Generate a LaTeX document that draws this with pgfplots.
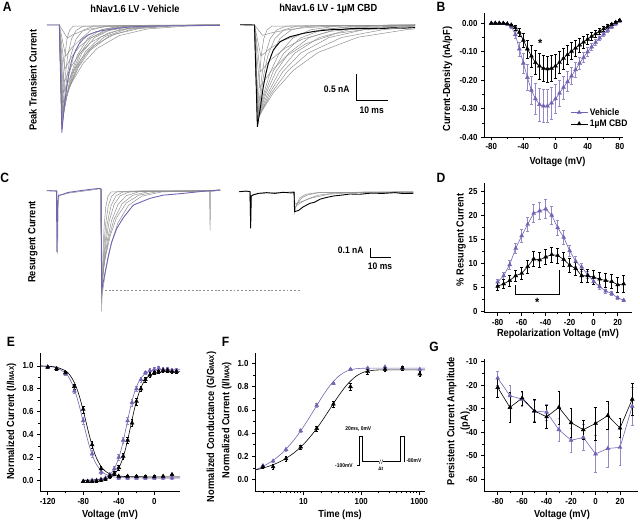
\documentclass[border=0pt]{standalone}
\usepackage{fontspec}
\setmainfont{Liberation Sans}[FakeStretch=0.9]
\usepackage{pgfplots}
\pgfplotsset{compat=1.18}
\definecolor{vp}{RGB}{118,98,178}
\definecolor{vpl}{RGB}{150,138,196}
\definecolor{tg}{RGB}{145,145,145}
\newcommand{\tk}{\fontsize{8.8}{9.5}\selectfont\bfseries}
\newcommand{\lb}{\fontsize{10.3}{12}\selectfont\bfseries}
\newcommand{\scb}{\fontsize{9.5}{10}\selectfont\bfseries}
\newcommand{\pl}{\fontsize{13.5}{14}\selectfont\bfseries}
\newcommand{\mx}{{\fontsize{7}{7}\selectfont MAX}}
\pgfplotsset{
 panel/.style={anchor=south west, scale only axis, axis x line*=bottom, axis y line*=left,
   tick align=outside, major tick length=3pt, minor tick length=1.8pt,
   tick style={black, line width=0.6pt}, axis line style={line width=0.7pt},
   tick label style={font=\tk}, /pgf/number format/assume math mode=true, clip=false},
 veh/.style={color=vp, line width=0.6pt, mark=triangle*, mark size=2.3pt,
   mark options={solid, fill=vp, draw=vp, line width=0.4pt},
   /pgfplots/error bars/y dir=both, /pgfplots/error bars/y explicit,
   /pgfplots/error bars/error bar style={vpl, line width=0.5pt},
   /pgfplots/error bars/error mark options={rotate=90, mark size=1.3pt, draw=vpl, line width=0.5pt}},
 cbd/.style={color=black, line width=0.6pt, mark=triangle*, mark size=2.3pt,
   mark options={solid, fill=black, draw=black, line width=0.4pt},
   /pgfplots/error bars/y dir=both, /pgfplots/error bars/y explicit,
   /pgfplots/error bars/error bar style={black, line width=0.5pt},
   /pgfplots/error bars/error mark options={rotate=90, mark size=1.3pt, draw=black, line width=0.5pt}},
 tr/.style={tg, line width=0.5pt, no marks},
}
\begin{document}
\begin{tikzpicture}
\path[use as bounding box] (0,0) rectangle (640bp,521bp);

% ---------------- A: transient traces ----------------
\begin{axis}[anchor=south west, at={(0bp,360.8bp)}, x=3.2bp, y=52bp, xmin=-18.53, xmax=179.9, ymin=-2.6, ymax=0.3, hide axis, clip=false]
\addplot[tr] coordinates {(-3.9,0)(0,0)(0.8,-2.0)(1.04,-1.48)(1.36,-0.99)(1.76,-0.60)(2.4,-0.27)(3.2,-0.10)(4.4,-0.022)(50,0)};
\addplot[tr] coordinates {(0,0)(0.8,-2.0)(1.25,-1.48)(1.85,-0.99)(2.6,-0.60)(3.8,-0.27)(5.3,-0.10)(7.55,-0.022)(50,0)};
\addplot[tr] coordinates {(0,0)(0.85,-2.0)(1.51,-1.48)(2.39,-0.99)(3.49,-0.60)(5.25,-0.27)(7.45,-0.10)(10.75,-0.022)(50,0)};
\addplot[tr] coordinates {(0,0)(0.9,-1.95)(1.8,-1.445)(3.0,-0.969)(4.5,-0.587)(6.9,-0.263)(9.9,-0.097)(14.4,-0.022)(50,0)};
\addplot[tr] coordinates {(0,0)(0.9,-1.9)(2.1,-1.408)(3.7,-0.944)(5.7,-0.572)(8.9,-0.257)(12.9,-0.095)(18.9,-0.021)(50,0)};
\addplot[tr] coordinates {(0,0)(0.95,-1.85)(2.3,-1.371)(4.1,-0.919)(6.35,-0.557)(9.95,-0.250)(14.45,-0.092)(21.2,-0.021)(50,0)};
\addplot[tr] coordinates {(0,0)(1.0,-1.8)(2.5,-1.334)(4.5,-0.895)(7.0,-0.542)(11,-0.243)(16,-0.090)(23.5,-0.020)(50,0)};
\addplot[tr] coordinates {(0,0)(1.0,-1.7)(2.8,-1.26)(5.2,-0.845)(8.2,-0.512)(13,-0.230)(19,-0.085)(28,-0.019)(50,0)};
\addplot[tr] coordinates {(0,0)(1.05,-1.65)(3.03,-1.223)(5.67,-0.820)(8.97,-0.497)(14.25,-0.223)(20.85,-0.082)(30.75,-0.018)(50,0)};
\addplot[tr] coordinates {(0,0)(1.1,-1.6)(3.26,-1.186)(6.14,-0.795)(9.74,-0.482)(15.5,-0.216)(22.7,-0.080)(33.5,-0.018)(50,0)};
\addplot[tr] coordinates {(0,0)(1.2,-1.5)(3.84,-1.112)(7.36,-0.746)(11.76,-0.452)(18.8,-0.203)(27.6,-0.075)(40.8,-0.017)(50,-0.005)};
\addplot[tr] coordinates {(0,0)(1.3,-1.3)(3.7,-0.963)(6.9,-0.646)(10.9,-0.391)(17.3,-0.176)(25.3,-0.065)(37.3,-0.014)(50,0)};
\addplot[tr] coordinates {(0,0)(1.5,-1.1)(3.6,-0.815)(6.4,-0.547)(9.9,-0.331)(15.5,-0.149)(22.5,-0.055)(33,-0.012)(50,0)};
\addplot[tr] coordinates {(0,0)(1.7,-0.85)(3.65,-0.63)(6.25,-0.422)(9.5,-0.256)(14.7,-0.115)(21.2,-0.042)(31,-0.009)(50,0)};
\addplot[tr] coordinates {(0,0)(2,-0.6)(3.8,-0.445)(6.2,-0.298)(9.2,-0.181)(14,-0.081)(20,-0.030)(29,-0.007)(50,0)};
\addplot[tr] coordinates {(0,0)(2.5,-0.25)(4.3,-0.185)(6.7,-0.124)(9.7,-0.075)(14.5,-0.034)(20.5,-0.012)(29.5,-0.003)(50,0)};
\addplot[vp, line width=0.8pt, no marks] coordinates {(-3.9,0)(0,0)(0.8,-2.07)(1.5,-1.6)(2.3,-1.19)(3.1,-0.88)(3.9,-0.67)(5,-0.5)(6,-0.38)(7.5,-0.27)(9.1,-0.19)(11.5,-0.13)(14.3,-0.1)(19,-0.055)(24.6,-0.03)(35,-0.015)(50.2,-0.01)};
% CBD
\addplot[tr] coordinates {(56.5,0)(61,0)(61.9,-1.95)(62.2,-1.445)(62.6,-0.969)(63.1,-0.587)(63.9,-0.263)(64.9,-0.097)(66.4,-0.022)(111.2,0)};
\addplot[tr] coordinates {(61,0)(61.9,-1.95)(62.5,-1.445)(63.3,-0.969)(64.3,-0.587)(65.9,-0.263)(67.9,-0.097)(70.9,-0.022)(111.2,0)};
\addplot[tr] coordinates {(61,0)(61.95,-1.95)(62.76,-1.445)(63.84,-0.969)(65.19,-0.587)(67.35,-0.263)(70.05,-0.097)(74.1,-0.022)(111.2,0)};
\addplot[tr] coordinates {(61,0)(62.0,-1.9)(63.05,-1.408)(64.45,-0.944)(66.2,-0.572)(69.0,-0.257)(72.5,-0.095)(77.75,-0.021)(111.2,0)};
\addplot[tr] coordinates {(61,0)(62.0,-1.85)(63.65,-1.371)(65.85,-0.919)(68.6,-0.557)(73.0,-0.250)(78.5,-0.092)(86.75,-0.021)(111.2,0)};
\addplot[tr] coordinates {(61,0)(62.05,-1.82)(64.06,-1.349)(66.74,-0.905)(70.09,-0.548)(75.45,-0.246)(82.15,-0.091)(92.2,-0.020)(111.2,0)};
\addplot[tr] coordinates {(61,0)(62.1,-1.8)(64.5,-1.334)(67.7,-0.895)(71.7,-0.542)(78.1,-0.243)(86.1,-0.090)(98.1,-0.020)(111.2,0)};
\addplot[tr] coordinates {(61,0)(62.15,-1.8)(65.0,-1.334)(68.8,-0.895)(73.55,-0.542)(81.15,-0.243)(90.65,-0.090)(104.9,-0.020)(111.2,0)};
\addplot[tr] coordinates {(61,0)(62.2,-1.8)(65.5,-1.334)(69.9,-0.895)(75.4,-0.542)(84.2,-0.243)(95.2,-0.090)(111.2,-0.022)};
\addplot[tr] coordinates {(61,0)(62.25,-1.78)(66.15,-1.319)(71.35,-0.885)(77.85,-0.536)(88.25,-0.240)(101.25,-0.089)(111.2,-0.041)};
\addplot[tr] coordinates {(61,0)(62.3,-1.75)(66.95,-1.297)(73.15,-0.870)(80.9,-0.527)(93.3,-0.236)(108.8,-0.087)(111.2,-0.074)};
\addplot[tr] coordinates {(61,0)(62.6,-1.2)(66.2,-0.889)(71.0,-0.596)(77.0,-0.361)(86.6,-0.162)(98.6,-0.060)(111.2,-0.021)};
\addplot[tr] coordinates {(61,0)(62.8,-0.9)(66.1,-0.667)(70.5,-0.447)(76,-0.271)(84.8,-0.122)(95.8,-0.045)(111.2,-0.011)};
\addplot[tr] coordinates {(61,0)(63,-0.6)(66,-0.445)(70,-0.298)(75,-0.181)(83,-0.081)(93,-0.030)(108,-0.007)(111.2,0)};
\addplot[tr] coordinates {(61,0)(63.5,-0.2)(66.5,-0.148)(70.5,-0.099)(75.5,-0.060)(83.5,-0.027)(93.5,-0.010)(108.5,-0.002)(111.2,0)};
\addplot[black, line width=0.9pt, no marks] coordinates {(56.5,0.005)(61,0)(61.9,-1.96)(62.8,-1.6)(63.75,-1.19)(64.5,-0.95)(65.3,-0.74)(66.9,-0.48)(69.0,-0.32)(72.1,-0.225)(76.25,-0.16)(80,-0.12)(85.7,-0.085)(88,-0.09)(91,-0.07)(96,-0.068)(100,-0.072)(104,-0.055)(108,-0.06)(111.2,-0.05)};
\draw[line width=0.7pt] (axis cs:92.7,-0.94) -- (axis cs:92.7,-1.44) -- (axis cs:102.7,-1.44);
\end{axis}

% ---------------- C: resurgent traces ----------------
\begin{axis}[anchor=south west, at={(0bp,191bp)}, x=2.07bp, y=90bp, xmin=-48.79, xmax=158.94, ymin=-1.548, ymax=0.174, hide axis, clip=false]
\addplot[tr] coordinates {(-26.2,0)(-21.2,0)(-20.95,-0.70)(-20.7,-0.2)(-20.3,-0.06)(-19,-0.045)(-15,-0.025)(-10,-0.01)(-5,0.005)(-1,0.02)(0,0.02)};
\addplot[tr] coordinates {(0,0.02)(0.3,-1.34)(0.6,-0.993)(1.0,-0.666)(1.5,-0.403)(2.3,-0.181)(3.3,-0.067)(4.8,-0.015)(20,0.0)(57.5,0.005)};
\addplot[tr] coordinates {(0,0.02)(0.3,-1.25)(0.78,-0.926)(1.42,-0.621)(2.22,-0.376)(3.5,-0.169)(5.1,-0.062)(7.5,-0.014)(57.5,0.0)};
\addplot[tr] coordinates {(0,0.02)(0.3,-1.2)(0.99,-0.889)(1.91,-0.596)(3.06,-0.361)(4.9,-0.162)(7.2,-0.060)(10.65,-0.013)(57.5,0.0)};
\addplot[tr] coordinates {(0,0.02)(0.3,-1.15)(1.2,-0.852)(2.4,-0.572)(3.9,-0.346)(6.3,-0.155)(9.3,-0.057)(13.8,-0.013)(57.5,0.0)};
\addplot[tr] coordinates {(0,0.02)(0.3,-1.1)(1.5,-0.815)(3.1,-0.547)(5.1,-0.331)(8.3,-0.149)(12.3,-0.055)(18.3,-0.012)(52.4,0.0)(52.7,-0.44)(53.0,0.0)(57.5,0.0)};
\addplot[tr] coordinates {(0,0.02)(0.3,-1.05)(1.8,-0.778)(3.8,-0.522)(6.3,-0.316)(10.3,-0.142)(15.3,-0.052)(22.8,-0.012)(57.5,0.0)};
\addplot[tr] coordinates {(0,0.02)(0.3,-1.0)(2.1,-0.741)(4.5,-0.497)(7.5,-0.301)(12.3,-0.135)(18.3,-0.050)(27.3,-0.011)(57.5,0.0)};
\addplot[tr] coordinates {(0,0.02)(0.3,-1.2)(2.25,-0.889)(4.85,-0.596)(8.1,-0.361)(13.3,-0.162)(19.8,-0.060)(29.55,-0.013)(57.5,0.0)};
\addplot[vp, line width=0.9pt, no marks] coordinates {(-26.2,0.0)(-21.5,-0.005)(-21.3,-0.68)(-21.0,-0.15)(-20.5,-0.05)(-19,-0.045)(-16,-0.02)(-10,0.0)(-5,0.015)(-1,0.025)(0,0.02)(0.3,-1.1)(0.8,-1.05)(1.9,-0.92)(3.5,-0.73)(5.2,-0.57)(7.6,-0.42)(10.8,-0.3)(15.6,-0.16)(23.7,-0.085)(30,-0.05)(39.8,-0.03)(48,-0.01)(55.9,0.005)(57.5,0.01)};
\draw[tg, line width=0.6pt, dash pattern=on 2pt off 1.8pt] (axis cs:0,-1.11) -- (axis cs:96.1,-1.11);
% CBD
\addplot[tr] coordinates {(66.8,-0.01)(71.9,-0.01)(72.2,-0.40)(72.5,-0.06)(73.5,-0.04)(80,-0.025)(88,-0.02)(93.2,-0.01)(93.5,-0.25)(94.5,-0.15)(96,-0.08)(99,-0.04)(105,-0.02)(120,-0.02)(150.9,-0.015)};
\addplot[tr] coordinates {(93.2,-0.01)(93.6,-0.2)(95,-0.14)(97,-0.08)(100,-0.045)(106,-0.02)(130,-0.02)(150.9,-0.02)};
\addplot[tr] coordinates {(93.2,-0.01)(93.6,-0.18)(96,-0.14)(100,-0.09)(105,-0.05)(115,-0.02)(150.9,-0.02)};
\addplot[tr] coordinates {(93.2,-0.01)(93.7,-0.15)(97,-0.12)(102,-0.08)(110,-0.04)(125,-0.015)(150.9,-0.01)};
\addplot[black, line width=0.9pt, no marks] coordinates {(66.8,-0.011)(70,-0.005)(72.0,-0.01)(72.3,-0.42)(72.6,-0.06)(73.5,-0.048)(76,-0.03)(80,-0.022)(84,-0.03)(88,-0.018)(92,-0.025)(93.3,-0.02)(93.5,-0.233)(95.4,-0.22)(97.8,-0.178)(101,-0.14)(103,-0.13)(105.8,-0.095)(109,-0.075)(112.4,-0.059)(116,-0.05)(120.3,-0.037)(125,-0.04)(130,-0.028)(136.4,-0.03)(142,-0.022)(146,-0.032)(150.9,-0.029)};
\draw[line width=0.7pt] (axis cs:130,-0.64) -- (axis cs:130,-0.74) -- (axis cs:140,-0.74);
\end{axis}

% ---------------- B ----------------
\begin{axis}[panel, at={(484bp,383.7bp)}, width=139bp, height=124.3bp,
  xmin=-89, xmax=84, ymin=-0.40, ymax=0.036,
  xtick={-80,-40,0,40,80}, minor x tick num=1,
  ytick={-0.4,-0.3,-0.2,-0.1,0}, yticklabels={-0.40,-0.30,-0.20,-0.10,0.00}, minor y tick num=1,
  legend style={at={(0.62,0.25)}, anchor=north west, draw=none, fill=none, font=\scb, inner sep=0pt, row sep=-1pt},
  legend cell align=left]
\addplot[veh] coordinates {(-80,0.000)+-(0,0.003) (-75,0.000)+-(0,0.003) (-70,0.000)+-(0,0.003) (-65,-0.001)+-(0,0.003) (-60,-0.003)+-(0,0.004) (-55,-0.012)+-(0,0.006) (-50,-0.040)+-(0,0.012) (-45,-0.090)+-(0,0.025) (-40,-0.140)+-(0,0.035) (-35,-0.190)+-(0,0.045) (-30,-0.235)+-(0,0.050) (-25,-0.265)+-(0,0.055) (-20,-0.285)+-(0,0.057) (-15,-0.290)+-(0,0.058) (-10,-0.290)+-(0,0.058) (-5,-0.280)+-(0,0.055) (0,-0.265)+-(0,0.050) (5,-0.245)+-(0,0.045) (10,-0.225)+-(0,0.040) (15,-0.205)+-(0,0.035) (20,-0.185)+-(0,0.030) (25,-0.163)+-(0,0.026) (30,-0.140)+-(0,0.022) (35,-0.120)+-(0,0.018) (40,-0.100)+-(0,0.015) (45,-0.083)+-(0,0.012) (50,-0.067)+-(0,0.010) (55,-0.052)+-(0,0.008) (60,-0.038)+-(0,0.007) (65,-0.025)+-(0,0.006) (70,-0.013)+-(0,0.005) (75,-0.002)+-(0,0.004) (80,0.008)+-(0,0.004)};
\addlegendentry{Vehicle}
\addplot[cbd] coordinates {(-80,0.000)+-(0,0.002) (-75,0.000)+-(0,0.002) (-70,0.000)+-(0,0.002) (-65,0.000)+-(0,0.002) (-60,-0.002)+-(0,0.003) (-55,-0.006)+-(0,0.004) (-50,-0.015)+-(0,0.008) (-45,-0.032)+-(0,0.015) (-40,-0.060)+-(0,0.025) (-35,-0.090)+-(0,0.032) (-30,-0.115)+-(0,0.038) (-25,-0.138)+-(0,0.042) (-20,-0.150)+-(0,0.045) (-15,-0.158)+-(0,0.046) (-10,-0.160)+-(0,0.046) (-5,-0.158)+-(0,0.045) (0,-0.150)+-(0,0.043) (5,-0.137)+-(0,0.040) (10,-0.123)+-(0,0.037) (15,-0.110)+-(0,0.034) (20,-0.098)+-(0,0.030) (25,-0.087)+-(0,0.027) (30,-0.076)+-(0,0.024) (35,-0.066)+-(0,0.021) (40,-0.056)+-(0,0.018) (45,-0.046)+-(0,0.015) (50,-0.037)+-(0,0.012) (55,-0.028)+-(0,0.010) (60,-0.019)+-(0,0.008) (65,-0.011)+-(0,0.006) (70,-0.004)+-(0,0.005) (75,0.003)+-(0,0.004) (80,0.010)+-(0,0.004)};
\addlegendentry{1µM CBD}
\node[font=\fontsize{12}{12}\selectfont\bfseries] at (axis cs:-19,-0.072) {*};
\end{axis}

% ---------------- D ----------------
\begin{axis}[panel, at={(484bp,208.3bp)}, width=147.7bp, height=129.4bp,
  xmin=-91.4, xmax=31.7, ymin=-0.2, ymax=26.75,
  xtick={-80,-60,-40,-20,0,20}, minor x tick num=1,
  ytick={0,5,10,15,20,25}, minor y tick num=1]
\addplot[veh] coordinates {(-80,6.2)+-(0,0.6) (-75,7.5)+-(0,0.8) (-70,9.8)+-(0,0.9) (-65,13.2)+-(0,1.0) (-60,15.8)+-(0,1.3) (-55,18.2)+-(0,1.5) (-50,20.5)+-(0,1.8) (-45,21.0)+-(0,1.8) (-40,21.4)+-(0,2.0) (-35,20.1)+-(0,1.8) (-30,17.5)+-(0,1.6) (-25,15.5)+-(0,1.4) (-20,12.7)+-(0,1.2) (-15,10.5)+-(0,1.0) (-10,9.3)+-(0,0.9) (-5,7.7)+-(0,0.8) (0,6.3)+-(0,0.6) (5,5.2)+-(0,0.5) (10,4.3)+-(0,0.4) (15,3.8)+-(0,0.4) (20,2.9)+-(0,0.3) (25,2.4)+-(0,0.3)};
\addplot[cbd] coordinates {(-80,5.3)+-(0,0.8) (-75,5.8)+-(0,1.0) (-70,6.5)+-(0,1.1) (-65,7.5)+-(0,1.2) (-60,8.0)+-(0,1.3) (-55,9.4)+-(0,1.4) (-50,11.0)+-(0,1.5) (-45,10.8)+-(0,1.5) (-40,11.4)+-(0,1.6) (-35,11.9)+-(0,1.6) (-30,11.7)+-(0,1.6) (-25,10.9)+-(0,1.5) (-20,9.7)+-(0,1.4) (-15,9.0)+-(0,1.4) (-10,7.5)+-(0,1.4) (-5,7.5)+-(0,1.4) (0,7.2)+-(0,1.4) (5,6.8)+-(0,1.4) (10,6.5)+-(0,1.5) (15,6.3)+-(0,1.5) (20,5.6)+-(0,1.6) (25,5.8)+-(0,1.7)};
\draw[line width=0.6pt] (axis cs:-65,5.6) -- (axis cs:-65,3.6) -- (axis cs:-29,3.6) -- (axis cs:-29,8.7);
\node[font=\fontsize{12}{12}\selectfont\bfseries] at (axis cs:-47,1.9) {*};
\end{axis}

% ---------------- E ----------------
\begin{axis}[panel, at={(40bp,29.3bp)}, width=140bp, height=138.4bp,
  xmin=-128.7, xmax=29, ymin=-0.10, ymax=1.11,
  xtick={-120,-80,-40,0}, minor x tick num=1,
  ytick={0,0.2,0.4,0.6,0.8,1}, yticklabels={0.0,0.2,0.4,0.6,0.8,1.0}, minor y tick num=1]
\addplot[vp, line width=0.6pt, no marks, smooth] coordinates {(-128,0.9984)(-120,0.9953)(-110,0.9824)(-100,0.9363)(-95,0.8832)(-90,0.7956)(-85,0.6676)(-80,0.51)(-77,0.4133)(-74,0.3238)(-71,0.2469)(-68,0.1846)(-65,0.1368)(-60,0.0837)(-55,0.0537)(-50,0.0376)(-45,0.0291)(-40,0.0247)(-30,0.0213)(-10,0.0201)(29,0.02)};
\addplot[black, line width=0.6pt, no marks, smooth] coordinates {(-128,0.9989)(-120,0.9969)(-110,0.9882)(-100,0.9568)(-95,0.9193)(-90,0.8543)(-85,0.7516)(-80,0.6107)(-77,0.515)(-74,0.4193)(-71,0.3307)(-68,0.2546)(-65,0.193)(-60,0.1211)(-55,0.079)(-50,0.0558)(-45,0.0434)(-40,0.037)(-30,0.0318)(-10,0.0302)(29,0.03)};
\addplot[vp, line width=0.6pt, no marks, smooth] coordinates {(-80,0.0005)(-70,0.0024)(-60,0.0111)(-55,0.0236)(-50,0.0495)(-45,0.1009)(-40,0.1942)(-36,0.3072)(-32,0.4478)(-28,0.595)(-24,0.7235)(-20,0.8192)(-15,0.8938)(-10,0.9332)(-5,0.9526)(0,0.9618)(10,0.9683)(29,0.97)};
\addplot[black, line width=0.6pt, no marks, smooth] coordinates {(-80,0.0003)(-70,0.0012)(-60,0.0055)(-55,0.0117)(-50,0.0249)(-45,0.0521)(-40,0.1058)(-36,0.1788)(-32,0.2853)(-28,0.4204)(-24,0.5652)(-20,0.6945)(-15,0.8116)(-10,0.8805)(-5,0.9165)(0,0.9341)(10,0.9466)(29,0.9498)};
\addplot[veh, only marks] coordinates {(-120,0.99)+-(0,0.01) (-110,0.975)+-(0,0.01) (-100,0.93)+-(0,0.015) (-90,0.78)+-(0,0.02) (-80,0.52)+-(0,0.03) (-70,0.23)+-(0,0.03) (-60,0.07)+-(0,0.02) (-50,0.03)+-(0,0.01) (-40,0.02)+-(0,0.01) (-30,0.02)+-(0,0.01) (-20,0.02)+-(0,0.01) (-10,0.02)+-(0,0.01) (0,0.02)+-(0,0.01) (10,0.02)+-(0,0.01) (20,0.02)+-(0,0.01)};
\addplot[veh, only marks] coordinates {(-80,-0.01)+-(0,0.01) (-75,-0.01)+-(0,0.01) (-70,0.0)+-(0,0.01) (-65,0.0)+-(0,0.01) (-60,0.01)+-(0,0.01) (-55,0.02)+-(0,0.01) (-50,0.05)+-(0,0.015) (-45,0.10)+-(0,0.02) (-40,0.20)+-(0,0.025) (-35,0.35)+-(0,0.03) (-30,0.52)+-(0,0.03) (-25,0.68)+-(0,0.03) (-20,0.80)+-(0,0.025) (-15,0.88)+-(0,0.02) (-10,0.94)+-(0,0.015) (-5,0.96)+-(0,0.015) (0,0.97)+-(0,0.015) (5,0.98)+-(0,0.015) (10,0.97)+-(0,0.015) (15,0.97)+-(0,0.015) (20,0.96)+-(0,0.015) (25,0.96)+-(0,0.015)};
\addplot[cbd, only marks] coordinates {(-120,0.99)+-(0,0.01) (-110,0.975)+-(0,0.01) (-100,0.94)+-(0,0.015) (-90,0.82)+-(0,0.02) (-80,0.62)+-(0,0.03) (-70,0.31)+-(0,0.03) (-60,0.10)+-(0,0.02) (-50,0.04)+-(0,0.01) (-40,0.035)+-(0,0.01) (-30,0.035)+-(0,0.01) (-20,0.033)+-(0,0.01) (-10,0.03)+-(0,0.01) (0,0.03)+-(0,0.01) (10,0.035)+-(0,0.01) (20,0.05)+-(0,0.015)};
\addplot[cbd, only marks] coordinates {(-80,-0.01)+-(0,0.01) (-75,-0.01)+-(0,0.01) (-70,-0.01)+-(0,0.01) (-65,-0.005)+-(0,0.01) (-60,0.0)+-(0,0.01) (-55,0.01)+-(0,0.01) (-50,0.03)+-(0,0.01) (-45,0.06)+-(0,0.015) (-40,0.11)+-(0,0.02) (-35,0.21)+-(0,0.025) (-30,0.35)+-(0,0.03) (-25,0.50)+-(0,0.03) (-20,0.69)+-(0,0.03) (-15,0.80)+-(0,0.025) (-10,0.88)+-(0,0.02) (-5,0.92)+-(0,0.02) (0,0.94)+-(0,0.015) (5,0.95)+-(0,0.015) (10,0.96)+-(0,0.015) (15,0.96)+-(0,0.015) (20,0.95)+-(0,0.015) (25,0.95)+-(0,0.015)};
\end{axis}

% ---------------- F ----------------
\begin{axis}[panel, at={(255bp,29.3bp)}, width=170bp, height=138.7bp, xmode=log,
  xmin=1.46, xmax=1260, ymin=-0.104, ymax=1.09,
  xtick={10,100,1000}, xticklabels={10,100,1000},
  minor xtick={2,3,4,5,6,7,8,9,20,30,40,50,60,70,80,90,200,300,400,500,600,700,800,900},
  ytick={0,0.2,0.4,0.6,0.8,1}, yticklabels={0.0,0.2,0.4,0.6,0.8,1.0}, minor y tick num=1]
\addplot[vp, line width=0.6pt, no marks, smooth] coordinates {(1.46,0.083)(2,0.113)(3,0.166)(4,0.215)(5,0.262)(7,0.346)(10,0.454)(14,0.569)(20,0.695)(28,0.802)(40,0.887)(56,0.934)(80,0.954)(113,0.959)(160,0.96)(300,0.96)(1260,0.96)};
\addplot[black, line width=0.6pt, no marks, smooth] coordinates {(1.46,0.083)(2,0.099)(3,0.128)(4,0.156)(5,0.183)(7,0.233)(10,0.303)(14,0.386)(20,0.490)(28,0.600)(40,0.717)(56,0.814)(80,0.888)(113,0.927)(160,0.941)(226,0.945)(400,0.945)(1260,0.945)};
\addplot[veh, only marks] coordinates {(2,0.12)+-(0,0.01) (3,0.16)+-(0,0.01) (5,0.26)+-(0,0.012) (9,0.42)+-(0,0.015) (17,0.64)+-(0,0.015) (33,0.83)+-(0,0.012) (65,0.95)+-(0,0.01) (129,0.96)+-(0,0.01) (257,0.97)+-(0,0.01) (513,0.96)+-(0,0.01) (1025,0.95)+-(0,0.012)};
\addplot[cbd, only marks] coordinates {(2,0.11)+-(0,0.015) (3,0.11)+-(0,0.02) (5,0.18)+-(0,0.02) (9,0.28)+-(0,0.02) (17,0.44)+-(0,0.02) (33,0.65)+-(0,0.025) (65,0.80)+-(0,0.03) (129,0.93)+-(0,0.02) (257,0.95)+-(0,0.015) (513,0.96)+-(0,0.015) (1025,0.91)+-(0,0.02)};
\end{axis}

% ---------------- G ----------------
\begin{axis}[panel, at={(484bp,29.3bp)}, width=154bp, height=132.4bp,
  xmin=-91.2, xmax=34.7, ymin=-65.4, ymax=-9,
  xtick={-80,-60,-40,-20,0,20}, minor x tick num=1,
  ytick={-60,-50,-40,-30,-20,-10}, minor y tick num=1]
\addplot[veh] coordinates {(-80,-17)+-(0,3) (-70,-24.5)+-(0,4.5) (-60,-26)+-(0,3) (-50,-31)+-(0,4.5) (-40,-31.5)+-(0,3.5) (-30,-39)+-(0,5) (-20,-43.5)+-(0,5) (-10,-42.3)+-(0,5.5) (0,-49.3)+-(0,8) (10,-47)+-(0,8) (20,-46.5)+-(0,7.5) (30,-29)+-(0,8)};
\addplot[cbd] coordinates {(-80,-21)+-(0,4) (-70,-29.5)+-(0,6.5) (-60,-25.5)+-(0,3) (-50,-31)+-(0,5) (-40,-33.5)+-(0,5) (-30,-29.5)+-(0,7) (-20,-36)+-(0,6) (-10,-39)+-(0,4) (0,-36.3)+-(0,7) (10,-33)+-(0,6) (20,-38.3)+-(0,4) (30,-26)+-(0,7)};
\end{axis}

% ---------------- F inset protocol ----------------
\draw[line width=0.5pt] (357bp,56bp) -- (359.3bp,56bp) -- (359.3bp,84.3bp) -- (362.3bp,84.3bp) -- (362.3bp,59.3bp) -- (379.3bp,59.3bp);
\draw[line width=0.5pt] (382.7bp,59.3bp) -- (400bp,59.3bp) -- (400bp,84.3bp) -- (404bp,84.3bp) -- (404bp,59.3bp);
\draw[line width=0.4pt] (379.3bp,57.3bp) -- (380.5bp,61.3bp) (381.5bp,57.3bp) -- (382.7bp,61.3bp);
\node[font=\fontsize{5.5}{5.5}\selectfont\bfseries] at (358.3bp,92bp) {20ms, 0mV};
\node[font=\fontsize{5.5}{5.5}\selectfont\bfseries] at (344bp,55.5bp) {-100mV};
\node[font=\fontsize{5}{5}\selectfont\bfseries] at (380.7bp,52.5bp) {Δt};
\node[font=\fontsize{5.5}{5.5}\selectfont\bfseries] at (414bp,60bp) {-80mV};

% ---------------- texts ----------------
\node[font=\pl] at (7.2bp,514.3bp) {A};
\node[font=\pl] at (441bp,514bp) {B};
\node[font=\pl] at (4.8bp,343.5bp) {C};
\node[font=\pl] at (441bp,343.5bp) {D};
\node[font=\pl] at (11bp,179bp) {E};
\node[font=\pl] at (225.5bp,179bp) {F};
\node[font=\pl] at (434bp,174bp) {G};
\node[font=\lb] at (135bp,511.7bp) {hNav1.6 LV - Vehicle};
\node[font=\lb] at (328.3bp,511.7bp) {hNav1.6 LV - 1µM CBD};
\node[font=\lb, rotate=90] at (33bp,441bp) {Peak Transient Current};
\node[font=\lb, rotate=90] at (33bp,279bp) {Resurgent Current};
\node[font=\scb, anchor=east] at (353bp,432bp) {0.5 nA};
\node[font=\scb] at (371.7bp,411bp) {10 ms};
\node[font=\scb, anchor=east] at (367bp,271bp) {0.1 nA};
\node[font=\scb] at (380bp,254.3bp) {10 ms};
\node[font=\lb, rotate=90] at (447.5bp,442bp) {Current-Density (nA/pF)};
\node[font=\lb] at (557.5bp,359.3bp) {Voltage (mV)};
\node[font=\lb, rotate=90] at (461bp,281bp) {\% Resurgent Current};
\node[font=\lb] at (558bp,187.5bp) {Repolarization Voltage (mV)};
\node[font=\lb, rotate=90] at (11.5bp,99.3bp) {Normalized Current (I/I\mx)};
\node[font=\lb, rotate=90] at (211.5bp,94bp) {Normalized Conductance (G/G\mx)};
\node[font=\lb] at (110bp,6bp) {Voltage (mV)};
\node[font=\lb, rotate=90] at (226.7bp,101bp) {Normalized Current (I/I\mx)};
\node[font=\lb] at (340bp,6bp) {Time (ms)};
\node[font=\fontsize{10.3}{13.5}\selectfont\bfseries, rotate=90, align=center] at (458.5bp,100bp) {Persistent Current Amplitude\\(pA)};
\node[font=\lb] at (562bp,6bp) {Voltage (mV)};
\end{tikzpicture}
\end{document}
